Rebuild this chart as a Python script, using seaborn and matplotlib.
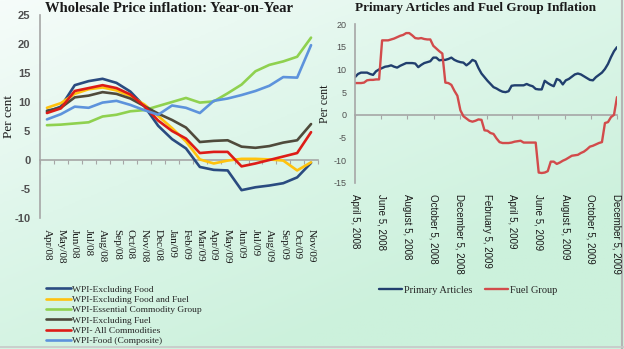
import numpy as np
import pandas as pd
import matplotlib
matplotlib.use("Agg")
import matplotlib.pyplot as plt
import matplotlib.colors as mcolors
import seaborn as sns

# ---------------- data: left panel (monthly, y-o-y %) ----------------
months = ["Apr/08", "May/08", "Jun/08", "Jul/08", "Aug/08", "Sep/08", "Oct/08",
          "Nov/08", "Dec/08", "Jan/09", "Feb/09", "Mar/09", "Apr/09", "May/09",
          "Jun/09", "Jul/09", "Aug/09", "Sep/09", "Oct/09", "Nov/09"]
excl_food = [8.3, 9.2, 12.9, 13.6, 14.0, 13.3, 11.8, 9.3, 5.9, 3.6, 2.0, -1.2,
             -1.7, -1.8, -5.2, -4.7, -4.4, -4.0, -3.0, -0.5]
excl_food_fuel = [9.0, 9.8, 11.4, 12.2, 12.5, 12.0, 11.0, 9.6, 7.6, 5.5, 3.2, 0.1,
                  -0.6, -0.1, 0.2, 0.2, 0.1, -0.1, -1.8, -0.4]
essential = [6.0, 6.1, 6.3, 6.5, 7.5, 7.8, 8.4, 8.6, 9.3, 10.0, 10.7, 9.9,
             10.1, 11.5, 13.0, 15.3, 16.4, 17.0, 17.8, 21.1]
excl_fuel = [8.5, 9.0, 10.8, 11.1, 11.7, 11.4, 10.6, 9.3, 8.0, 6.9, 5.6, 3.1,
             3.3, 3.4, 2.3, 2.1, 2.4, 3.0, 3.4, 6.2]
all_comm = [8.1, 8.9, 11.9, 12.4, 12.9, 12.4, 11.3, 9.3, 6.8, 5.0, 3.7, 1.2,
            1.4, 1.4, -1.1, -0.6, 0.0, 0.6, 1.2, 4.8]
food_comp = [7.0, 7.9, 9.2, 9.0, 9.9, 10.2, 9.5, 8.6, 7.8, 9.4, 9.0, 8.1,
             10.2, 10.6, 11.2, 11.9, 12.8, 14.3, 14.2, 19.8]
left_names = ["WPI-Excluding Food", "WPI-Excluding Food and Fuel",
              "WPI-Essential Commodity Group", "WPI-Excluding Fuel",
              "WPI- All Commodities", "WPI-Food (Composite)"]
left_colors = ["#2a4b80", "#ffc20e", "#8fd14f", "#4f4a3b", "#dd1c17", "#5d93dc"]

# ---------------- data: right panel (weekly, y-o-y %) ----------------
week_start = "2008-04-05"
n_weeks = 88
primary = [8.3, 9.0, 9.3, 9.3, 9.3, 9.0, 8.8, 9.6, 10.0, 10.3,
           10.6, 10.7, 10.9, 10.6, 10.4, 10.8, 11.1, 11.4, 11.4, 11.4,
           11.3, 10.5, 11.0, 11.4, 11.6, 11.8, 12.6, 12.6, 12.0, 12.1,
           12.1, 12.3, 12.6, 12.1, 11.8, 11.6, 11.5, 10.9, 11.4, 12.1,
           11.8, 10.3, 9.1, 8.3, 7.5, 6.8, 6.1, 5.8, 5.4, 5.1,
           5.0, 5.2, 6.4, 6.5, 6.5, 6.5, 6.5, 6.8, 6.5, 6.3,
           5.7, 5.6, 5.6, 7.5, 7.0, 6.6, 6.3, 7.9, 7.6, 6.7,
           7.6, 7.9, 8.4, 8.9, 9.1, 8.9, 8.5, 8.1, 7.7, 7.6,
           8.3, 8.8, 9.3, 10.1, 11.2, 12.7, 14.0, 14.9]
fuel = [7.0, 7.0, 7.0, 7.1, 7.6, 7.7, 7.7, 7.8, 7.8, 16.4,
        16.4, 16.4, 16.6, 16.8, 17.1, 17.4, 17.6, 18.0, 18.0, 17.5,
        16.9, 16.8, 16.9, 16.7, 16.6, 16.6, 15.2, 14.6, 14.0, 13.5,
        7.1, 7.0, 6.6, 5.3, 4.2, 1.0, -0.3, -0.8, -1.3, -1.5,
        -1.3, -1.0, -1.1, -3.4, -3.5, -4.0, -4.2, -5.2, -6.0, -6.2,
        -6.2, -6.2, -6.1, -5.9, -5.8, -5.7, -6.1, -6.1, -6.1, -6.1,
        -6.1, -12.7, -12.8, -12.7, -12.4, -10.3, -10.3, -10.8, -10.5, -10.1,
        -9.8, -9.4, -9.0, -8.9, -8.8, -8.4, -8.1, -7.6, -7.0, -6.8,
        -6.5, -6.2, -6.0, -1.8, -1.6, -0.5, 0.0, 3.9]
right_names = ["Primary Articles", "Fuel Group"]
right_colors = ["#213f6e", "#d24b4b"]
right_tick_dates = ["2008-04-05", "2008-06-05", "2008-08-05", "2008-10-05",
                    "2008-12-05", "2009-02-05", "2009-04-05", "2009-06-05",
                    "2009-08-05", "2009-10-05", "2009-12-05"]

# ---------------- style ----------------
sns.set_style("white")
plt.rcParams["font.family"] = ["Liberation Serif", "DejaVu Serif"]

W, H = 624, 349
fig = plt.figure(figsize=(W / 100, H / 100), dpi=100)

# background gradient
bg = fig.add_axes([0, 0, 1, 1], zorder=-10)
gx, gy = np.meshgrid(np.linspace(0, 1, 200), np.linspace(0, 1, 120))
grad = np.clip(0.55 * gx + 0.75 * gy, 0, 1)
cmap = mcolors.LinearSegmentedColormap.from_list(
    "bgm", ["#f6fcfa", "#def6ea", "#ccf1dc"])
bg.imshow(grad, cmap=cmap, aspect="auto", extent=[0, 1, 0, 1], origin="upper")
bg.set_xlim(0, 1)
bg.set_ylim(0, 1)
bg.set_axis_off()
bg.axvline(1 - 2.5 / W, color="#b5b5b5", linewidth=1.5)
bg.axhline(2.0 / H, color="#c8c8c8", linewidth=1.2)

def frac(x0, y0, x1, y1):
    return [x0 / W, 1 - y1 / H, (x1 - x0) / W, (y1 - y0) / H]

gray = "#a6a6a6"

# ---------------- left panel ----------------
axL = fig.add_axes(frac(40, 15, 318, 218))
axL.patch.set_alpha(0)
left_df = pd.DataFrame({"idx": np.arange(len(months))})
for nm, vals in zip(left_names, [excl_food, excl_food_fuel, essential,
                                 excl_fuel, all_comm, food_comp]):
    left_df[nm] = vals
long_left = left_df.melt(id_vars="idx", var_name="series", value_name="value")
sns.lineplot(data=long_left, x="idx", y="value", hue="series",
             hue_order=left_names, palette=left_colors, linewidth=1.9,
             ax=axL, legend=False)
axL.set_xlim(-0.5, len(months) - 0.5)
axL.set_ylim(-10, 25)
axL.set_yticks(range(-10, 26, 5))
axL.set_yticklabels([str(v) for v in range(-10, 26, 5)],
                    family=["Liberation Sans"], fontsize=8, fontweight="bold",
                    color="#505050")
axL.set_xticks(range(len(months)))
axL.set_xticklabels(months, rotation=270, fontsize=8, color="#1a1a1a")
axL.tick_params(axis="x", length=0, pad=8)
axL.tick_params(axis="y", length=3, color=gray, direction="out", pad=4)
for s in ["top", "right", "bottom"]:
    axL.spines[s].set_visible(False)
axL.spines["left"].set_color(gray)
axL.spines["left"].set_linewidth(1.2)
axL.set_xlabel("")
axL.set_ylabel("Per cent", fontsize=9.5, color="#1a1a1a")
axL.yaxis.set_label_coords((15 - 40) / 278, 0.5)
secL = axL.secondary_xaxis(10 / 35)
secL.set_xticks(np.arange(-0.5, len(months), 1.0))
secL.set_xticklabels([])
secL.tick_params(length=3, color=gray, direction="out")
secL.spines["bottom"].set_color(gray)
secL.spines["bottom"].set_linewidth(1.2)
fig.text(45 / W, 1 - 9 / H, "Wholesale Price inflation: Year-on-Year",
         fontsize=10.5, fontweight="bold", va="center", ha="left",
         color="#1a1a1a")

handlesL = axL.get_lines()[:len(left_names)]
fig.legend(handlesL, left_names, loc="upper left",
           bbox_to_anchor=(46 / W, 1 - 285 / H), frameon=False, fontsize=6.8,
           handlelength=2.6, handletextpad=0.2, labelspacing=0.18,
           borderaxespad=0, borderpad=0)

# ---------------- right panel ----------------
axR = fig.add_axes(frac(355, 24, 617, 183))
axR.patch.set_alpha(0)
dates = pd.date_range(week_start, periods=n_weeks, freq="7D")
right_df = pd.DataFrame({"date": dates, right_names[0]: primary,
                         right_names[1]: fuel})
long_right = right_df.melt(id_vars="date", var_name="series", value_name="value")
sns.lineplot(data=long_right, x="date", y="value", hue="series",
             hue_order=right_names, palette=right_colors, linewidth=1.7,
             ax=axR, legend=False)
tick_dates = pd.to_datetime(right_tick_dates)
axR.set_xlim(dates[0], dates[-1])
axR.set_ylim(-15, 20)
axR.set_yticks(range(-15, 21, 5))
axR.set_yticklabels([str(v) for v in range(-15, 21, 5)],
                    family=["Liberation Sans"], fontsize=6.5, color="#505050")
axR.set_xticks(tick_dates)
axR.set_xticklabels([f"{d.strftime('%B')} {d.day}, {d.year}" for d in tick_dates],
                    rotation=270, fontsize=7, family=["Liberation Sans"],
                    color="#1a1a1a")
axR.tick_params(axis="x", length=0, pad=8)
axR.tick_params(axis="y", length=3, color=gray, direction="out", pad=3)
for s in ["top", "right", "bottom"]:
    axR.spines[s].set_visible(False)
axR.spines["left"].set_color(gray)
axR.spines["left"].set_linewidth(1.2)
axR.set_xlabel("")
axR.set_ylabel("Per cent", fontsize=8.5, color="#1a1a1a")
axR.yaxis.set_label_coords((331 - 355) / 262, 0.5)
secR = axR.secondary_xaxis(15 / 35)
secR.set_xticks(tick_dates)
secR.set_xticklabels([])
secR.tick_params(length=3, color=gray, direction="out")
secR.spines["bottom"].set_color(gray)
secR.spines["bottom"].set_linewidth(1.2)
fig.text(355 / W, 1 - 8 / H, "Primary Articles and Fuel Group Inflation",
         fontsize=9.5, fontweight="bold", va="center", ha="left",
         color="#1a1a1a")

handlesR = axR.get_lines()[:2]
fig.legend(handlesR, right_names, loc="center",
           bbox_to_anchor=(468 / W, 1 - 290 / H), frameon=False, fontsize=7.5,
           ncol=2, handlelength=2.2, handletextpad=0.2, columnspacing=1.2,
           borderaxespad=0, borderpad=0)

fig.savefig("out.png", dpi=100, facecolor=fig.get_facecolor())
